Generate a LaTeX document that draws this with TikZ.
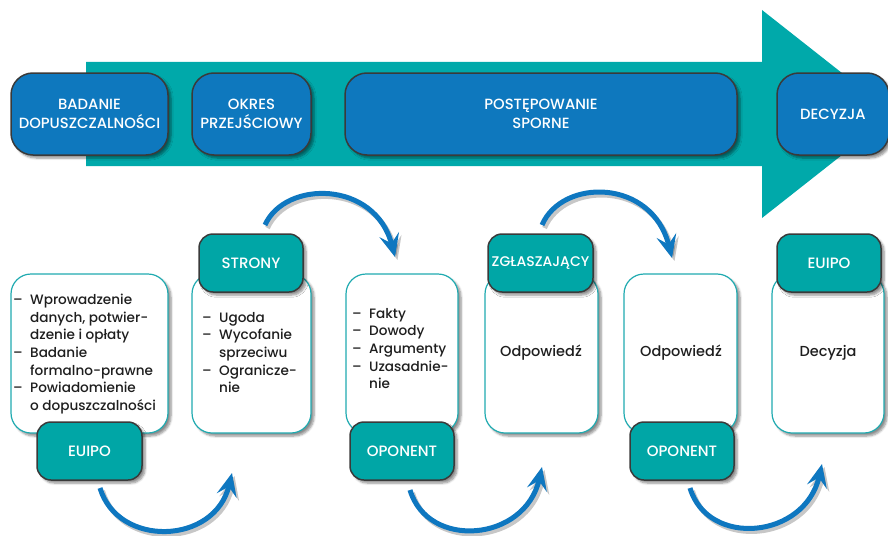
\documentclass[tikz,border=0pt]{standalone}
\usepackage{fontspec}
\setmainfont{Poppins}[UprightFont=* Medium,BoldFont=* SemiBold]
\usetikzlibrary{arrows.meta,shadows,shadows.blur}
\definecolor{topblue}{HTML}{0E78BE}
\definecolor{band}{HTML}{00A9AA}
\definecolor{tabteal}{HTML}{00A6A6}
\definecolor{edge}{HTML}{3A3A3A}
\definecolor{wedge}{HTML}{1FAAB0}
\definecolor{arrblue}{HTML}{0E77C0}
\definecolor{txt}{HTML}{1E1E1E}
\tikzset{
  shad/.style={blur shadow={shadow xshift=3pt,shadow yshift=-3pt,shadow opacity=45,shadow blur steps=6}},
  topbox/.style={shad,fill=topblue,draw=edge,line width=1.5pt,rounded corners=22pt,
    text=white,align=center,font=\fontsize{14.8}{19}\selectfont,inner sep=0pt},
  wbox/.style={shad,fill=white,draw=wedge,line width=1.2pt,rounded corners=20pt,inner sep=0pt,
    minimum height=159pt},
  tabbox/.style={shad,fill=tabteal,draw=edge,line width=1.5pt,rounded corners=14pt,
    text=white,font=\fontsize{15}{18}\selectfont,inner sep=0pt,minimum height=58pt},
  listtxt/.style={anchor=north west,align=left,inner sep=0pt,text=txt,
    font=\fontsize{13.6}{17.6}\selectfont},
  midtxt/.style={text=txt,inner sep=0pt,font=\fontsize{14.5}{17}\selectfont},
  flow/.style={draw=arrblue,line width=5pt,-{Stealth[length=23pt,width=20pt,inset=9pt]}},
  flowshadow/.style={draw=black,opacity=0.22,line width=5pt,
    -{Stealth[length=23pt,width=20pt,inset=9pt]},transform canvas={shift={(2.5pt,-3pt)}}}
}
\newcommand{\itm}[1]{\makebox[17pt][l]{–}#1}
\newcommand{\cnt}[1]{\hspace*{17pt}#1}
\begin{document}
\begin{tikzpicture}[x=1pt,y=-1pt]
\useasboundingbox (0,0) rectangle (888,535);
\clip (0,0) rectangle (888,535);
% big arrow band
\fill[band] (86,62) -- (762,62) -- (762,10) -- (894,114) -- (762,218) -- (762,166) -- (86,166) -- cycle;
% top boxes
\node[topbox,minimum width=157pt,minimum height=82pt] (badanie) at (89.5,114) {BADANIE\\DOPUSZCZALNOŚCI};
\node[topbox,minimum width=119pt,minimum height=82pt] (okres) at (251.5,114) {OKRES\\PRZEJŚCIOWY};
\node[topbox,minimum width=392pt,minimum height=82pt] (postep) at (541,114) {POSTĘPOWANIE\\SPORNE};
\node[topbox,minimum width=112pt,minimum height=82pt] (decyzja) at (833,114) {DECYZJA};
% white boxes
\node[wbox,minimum width=157pt] (w1) at (89.5,353.5) {};
\node[wbox,minimum width=119pt] (w2) at (251.5,353.5) {};
\node[wbox,minimum width=112pt] (w3) at (402,353.5) {};
\node[wbox,minimum width=113pt] (w4) at (541.5,353.5) {};
\node[wbox,minimum width=113pt] (w5) at (680.5,353.5) {};
\node[wbox,minimum width=112pt] (w6) at (828,353.5) {};
% box texts
\node[listtxt] (l1) at (13,294) {\itm{Wprowadzenie}\\\cnt{danych, potwier-}\\\cnt{dzenie i opłaty}\\\itm{Badanie}\\\cnt{formalno-prawne}\\\itm{Powiadomienie}\\\cnt{o dopuszczalności}};
\node[listtxt] (l2) at (202,312) {\itm{Ugoda}\\\itm{Wycofanie}\\\cnt{sprzeciwu}\\\itm{Ogranicze-}\\\cnt{nie}};
\node[listtxt] (l3) at (352,308) {\itm{Fakty}\\\itm{Dowody}\\\itm{Argumenty}\\\itm{Uzasadnie-}\\\cnt{nie}};
\node[midtxt] (o4) at (541,353) {Odpowiedź};
\node[midtxt] (o5) at (681,353) {Odpowiedź};
\node[midtxt] (d6) at (828,353) {Decyzja};
% tabs
\node[tabbox,minimum width=105pt] (t1) at (89.5,451) {EUIPO};
\node[tabbox,minimum width=104pt] (t2) at (251,263) {STRONY};
\node[tabbox,minimum width=104pt] (t3) at (402,451) {OPONENT};
\node[tabbox,minimum width=105pt] (t4) at (540.5,263) {\fontsize{14}{16}\selectfont ZGŁASZAJĄCY};
\node[tabbox,minimum width=104pt] (t5) at (682,451) {OPONENT};
\node[tabbox,minimum width=104pt] (t6) at (829,263) {EUIPO};
% arrow end points
\coordinate (b1s) at (100,488); \coordinate (b1e) at (232,473);
\coordinate (b2s) at (410,490); \coordinate (b2e) at (542,467);
\coordinate (b3s) at (690,488); \coordinate (b3e) at (822,464);
\coordinate (u1s) at (265,225); \coordinate (u1e) at (395,257);
\coordinate (u2s) at (542,225); \coordinate (u2e) at (672,258);
% shadows of arrows
\draw[flowshadow] (b1s) .. controls +(18,60) and +(-17,72) .. (b1e);
\draw[flowshadow] (b2s) .. controls +(18,60) and +(-17,75) .. (b2e);
\draw[flowshadow] (b3s) .. controls +(18,60) and +(-17,75) .. (b3e);
\draw[flowshadow] (u1s) .. controls +(20,-45) and +(-20,-77) .. (u1e);
\draw[flowshadow] (u2s) .. controls +(20,-47) and +(-20,-80) .. (u2e);
% arrows
\draw[flow] (b1s) .. controls +(18,60) and +(-17,72) .. (b1e);
\draw[flow] (b2s) .. controls +(18,60) and +(-17,75) .. (b2e);
\draw[flow] (b3s) .. controls +(18,60) and +(-17,75) .. (b3e);
\draw[flow] (u1s) .. controls +(20,-45) and +(-20,-77) .. (u1e);
\draw[flow] (u2s) .. controls +(20,-47) and +(-20,-80) .. (u2e);
\end{tikzpicture}
\end{document}
